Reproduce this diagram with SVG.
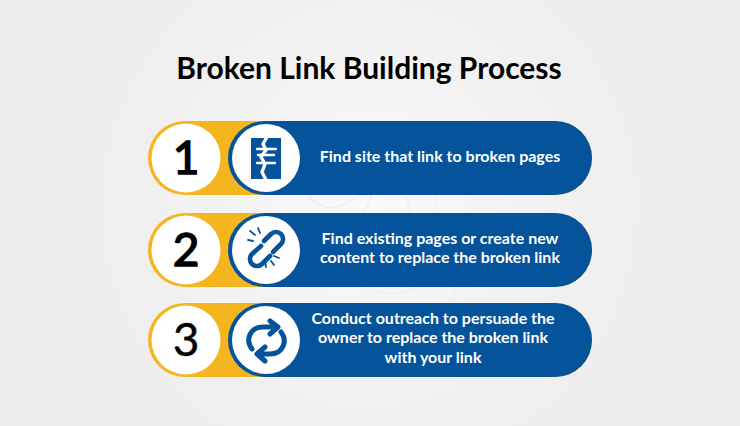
<svg xmlns="http://www.w3.org/2000/svg" width="740" height="426" viewBox="0 0 740 426">
<defs>
<radialGradient id="bg" cx="370" cy="205" r="300" gradientUnits="userSpaceOnUse"><stop offset="0" stop-color="#fbfafa"/><stop offset="0.55" stop-color="#f3f2f2"/><stop offset="1" stop-color="#eeecec"/></radialGradient>
<symbol id="pill" viewBox="0 0 444 74" width="444" height="74" overflow="visible">
<rect x="0" y="0" width="444" height="74" rx="37" fill="#f5b51f"/>
<path d="M117 0H407a37 37 0 0 1 0 74H117a37 37 0 0 1 0-74Z" fill="#04539b"/>
<circle cx="38" cy="37" r="34.5" fill="#fff"/>
<circle cx="118" cy="37" r="34" fill="#fff"/>
</symbol>
</defs>
<style>
.t{font-family:"Lato","Liberation Sans",sans-serif;font-weight:700;font-size:16px;fill:#fff;text-anchor:middle}
.n{font-family:"Lato","Liberation Sans",sans-serif;font-weight:400;font-size:46px;fill:#000;stroke:#000;stroke-width:1.5px;text-anchor:middle}
.i{fill:none;stroke:#04539b;stroke-linecap:round;stroke-linejoin:round}
</style>
<rect width="740" height="426" fill="url(#bg)"/>
<g fill="none" stroke="#eeeded" stroke-width="1.2">
<path d="M308 196Q325 214 344 204Q366 190 372 197"/>
<path d="M372 196Q362 222 344 233"/>
<path d="M406 196Q416 225 402 246"/>
<path d="M435 196Q440 215 436 232"/>
<path d="M362 287Q392 300 416 287"/>
<path d="M455 287Q453 296 448 303"/>
</g>
<text x="369" y="79" text-anchor="middle" font-family="Lato, 'Liberation Sans', sans-serif" font-weight="700" font-size="30" fill="#000">Broken Link Building Process</text>
<g id="connectors"/>
<g id="node-1">
<use href="#pill" x="148" y="121"/>
<text class="n" x="186" y="174">1</text>
<path fill="#04539b" d="M251 138H281V179H251Z"/>
<path fill="none" stroke="#fff" stroke-width="3.4" stroke-linejoin="round" d="M267 137L263 144 266 150 261 157 265 164 262 172 266 180"/>
<g stroke="#fff" stroke-width="2.4" stroke-linecap="round"><path d="M257 149H276M258 155H274M257 163H275"/></g>
<text class="t" x="440" y="162">Find site that link to broken pages</text>
</g>
<g id="node-2">
<use href="#pill" x="148" y="213"/>
<text class="n" x="186" y="266">2</text>
<g class="i" stroke-width="4.6">
<path d="M264 241L271 234A7 7 0 0 1 281 244L273 252"/>
<path d="M261 246L252 254A7 7 0 0 0 262 264L270 256"/>
</g>
<g class="i" stroke-width="1.8"><path d="M250 231L255 235M258 228L260 233M248 240L253 241M274 256L279 258M271 261L274 265M265 261L266 267"/></g>
<text class="t" x="440" y="244">Find existing pages or create new</text>
<text class="t" x="440" y="263">content to replace the broken link</text>
</g>
<g id="node-3">
<use href="#pill" x="148" y="303"/>
<text class="n" x="186" y="356" style="stroke-width:.4px">3</text>
<g class="i" stroke-width="5">
<path d="M252 349C245 340 250 327 263 327H277M270 321L278 327 270 334"/>
<path d="M281 332C288 341 283 354 270 354H258M265 347L257 354 265 361"/>
</g>
<text class="t" x="433" y="324">Conduct outreach to persuade the</text>
<text class="t" x="433" y="343">owner to replace the broken link</text>
<text class="t" x="433" y="363">with your link</text>
</g>
</svg>
